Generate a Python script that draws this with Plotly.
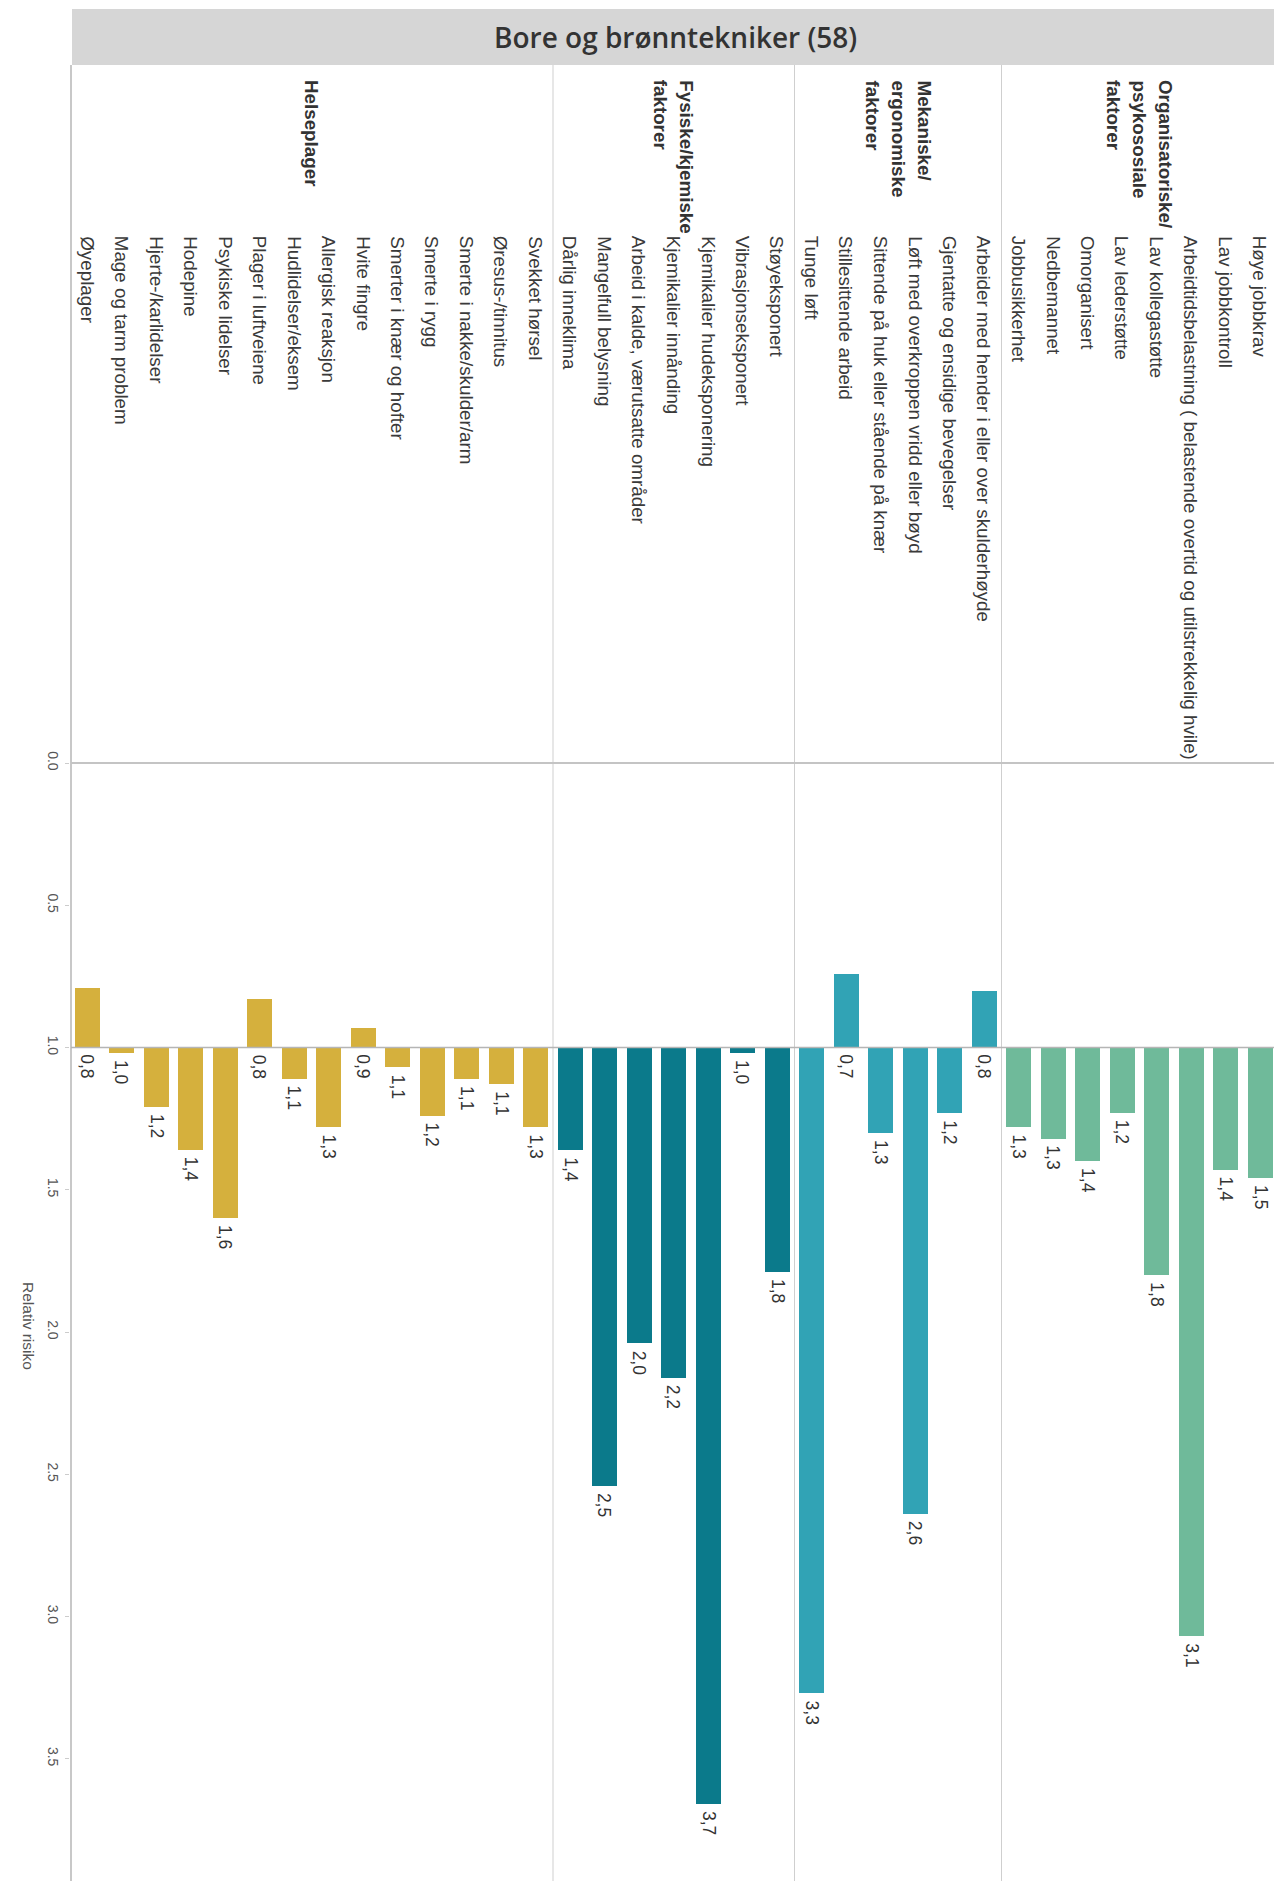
import plotly.graph_objects as go

# ---------------- data (left-to-right order as displayed) ----------------
group_names = ["Helseplager", "Fysiske/kjemiske faktorer",
               "Mekaniske/ergonomiske faktorer", "Organisatoriske/psykososiale faktorer"]
group_label_lines = [["Helseplager"],
                     ["Fysiske/kjemiske", "faktorer"],
                     ["Mekaniske/", "ergonomiske", "faktorer"],
                     ["Organisatoriske/", "psykososiale", "faktorer"]]

helse_items = ["Øyeplager", "Mage og tarm problem", "Hjerte-/karlidelser", "Hodepine",
               "Psykiske lidelser", "Plager i luftveiene", "Hudlidelser/eksem",
               "Allergisk reaksjon", "Hvite fingre", "Smerter i knær og hofter",
               "Smerte i rygg", "Smerte i nakke/skulder/arm", "Øresus-/tinnitus",
               "Svekket hørsel"]
helse_values = [0.79, 1.02, 1.21, 1.36, 1.60, 0.83, 1.11, 1.28, 0.93, 1.07, 1.24, 1.11, 1.13, 1.28]

fysisk_items = ["Dårlig inneklima", "Mangelfull belysning", "Arbeid i kalde, værutsatte områder",
                "Kjemikalier innånding", "Kjemikalier hudeksponering",
                "Vibrasjonseksponert", "Støyeksponert"]
fysisk_values = [1.36, 2.54, 2.04, 2.16, 3.66, 1.02, 1.79]

mek_items = ["Tunge løft", "Stillesittende arbeid", "Sittende på huk eller stående på knær",
             "Løft med overkroppen vridd eller bøyd", "Gjentatte og ensidige bevegelser",
             "Arbeider med hender i eller over skulderhøyde"]
mek_values = [3.27, 0.74, 1.30, 2.64, 1.23, 0.80]

org_items = ["Jobbusikkerhet", "Nedbemannet", "Omorganisert", "Lav lederstøtte",
             "Lav kollegastøtte",
             "Arbeidtidsbelastning ( belastende overtid og utilstrekkelig hvile)",
             "Lav jobbkontroll", "Høye jobbkrav"]
org_values = [1.28, 1.32, 1.40, 1.23, 1.80, 3.07, 1.43, 1.46]

group_items = [helse_items, fysisk_items, mek_items, org_items]
group_values = [helse_values, fysisk_values, mek_values, org_values]
group_colors = ["#d5b03d", "#0b7a8b", "#31a3b5", "#6fba9a"]

title_text = "Bore og brønntekniker (58)"
axis_title = "Relativ risiko"
tick_vals = [0.0, 0.5, 1.0, 1.5, 2.0, 2.5, 3.0, 3.5]
baseline = 1.0

# ---------------- layout geometry ----------------
W, H = 1274, 1881
L, T = 70, 763          # plot area left / top in pixels
PW, PH = W - L, H - T
band = 34.5
FONT = "Liberation Sans, Arial, sans-serif"

def px_x(p):
    return (p - L) / PW

def px_y(p):
    return (H - p) / PH

fig = go.Figure()

annotations = []
shapes = []
start = 0
divider_positions = []
for g, (items, vals, col, lines) in enumerate(zip(group_items, group_values, group_colors, group_label_lines)):
    xs = list(range(start, start + len(items)))
    fig.add_trace(go.Bar(
        x=xs, y=[v - baseline for v in vals], base=[baseline] * len(vals),
        marker=dict(color=col, line=dict(width=0)), width=0.73,
        name=group_names[g], showlegend=False,
        hovertext=items, hoverinfo="text+y"))
    # value labels
    for x, v in zip(xs, vals):
        annotations.append(dict(
            x=x, y=max(v, baseline), xref="x", yref="y",
            text=f"{v:.1f}".replace(".", ","), textangle=90,
            showarrow=False, xanchor="center", yanchor="top", yshift=-5,
            font=dict(family=FONT, size=17.5, color="#333333")))
    # item labels
    for x, it in zip(xs, items):
        annotations.append(dict(
            x=x, y=px_y(234), xref="x", yref="paper",
            text=it, textangle=90, showarrow=False,
            xanchor="center", yanchor="top",
            font=dict(family=FONT, size=18.8, color="#3a3a3a")))
    # group label (lines go right-to-left)
    mid = start + (len(items) - 1) / 2
    n = len(lines)
    for k, ln in enumerate(lines):
        annotations.append(dict(
            x=mid, y=px_y(78), xref="x", yref="paper",
            text=ln, textangle=90, showarrow=False,
            xanchor="center", yanchor="top",
            xshift=((n - 1) / 2 - k) * 26,
            font=dict(family=FONT, size=18.8, color="#333333", weight="bold")))
    start += len(items)
    divider_positions.append(start - 0.5)

# header
shapes.append(dict(type="rect", xref="paper", yref="paper",
                   x0=px_x(72), x1=1.01, y0=px_y(65), y1=px_y(9),
                   fillcolor="#d6d6d6", line=dict(width=0), layer="below"))
annotations.append(dict(x=px_x(675), y=px_y(37), xref="paper", yref="paper",
                        text=title_text, showarrow=False, xanchor="center", yanchor="middle",
                        font=dict(family="Open Sans, sans-serif", size=28, color="#333333",
                                  weight=600)))
# left border
shapes.append(dict(type="line", xref="paper", yref="paper", x0=px_x(71), x1=px_x(71),
                   y0=0, y1=px_y(65), line=dict(color="#c8c8c8", width=2)))
# group dividers
for d in divider_positions[:-1]:
    shapes.append(dict(type="line", xref="x", yref="paper", x0=d, x1=d,
                       y0=0, y1=px_y(65), line=dict(color="#cfcfcf", width=1)))
# 0.0 line (panel separator)
shapes.append(dict(type="line", xref="paper", yref="paper", x0=px_x(71), x1=1,
                   y0=1, y1=1, line=dict(color="#c4c4c4", width=2)))
# baseline 1.0
shapes.append(dict(type="line", xref="paper", yref="y", x0=px_x(71), x1=1,
                   y0=baseline, y1=baseline, line=dict(color="#b5b5b5", width=1.5),
                   layer="above"))

# axis title
annotations.append(dict(x=px_x(29), y=px_y(1326), xref="paper", yref="paper",
                        text=axis_title, textangle=90, showarrow=False,
                        xanchor="center", yanchor="middle",
                        font=dict(family=FONT, size=15.5, color="#555555")))

fig.update_layout(
    width=W, height=H,
    margin=dict(l=L, r=0, t=T, b=0, pad=0, autoexpand=False),
    paper_bgcolor="white", plot_bgcolor="white",
    bargap=0, barmode="overlay",
    xaxis=dict(range=[-0.5, -0.5 + PW / band], showticklabels=False, showgrid=False,
               zeroline=False, showline=False, ticks="", automargin=False),
    yaxis=dict(range=[(H - T) / 284.5, 0], tickvals=tick_vals, tickformat=".1f",
               tickangle=90, ticks="outside", ticklen=4, tickcolor="#cccccc",
               tickfont=dict(family=FONT, size=14, color="#555555"),
               showgrid=False, zeroline=False, showline=False, automargin=False),
    shapes=shapes, annotations=annotations,
)

fig.write_html("out.html",
               config={"displayModeBar": False},
               post_script="document.body.style.margin='0px';document.body.style.overflow='hidden';")
